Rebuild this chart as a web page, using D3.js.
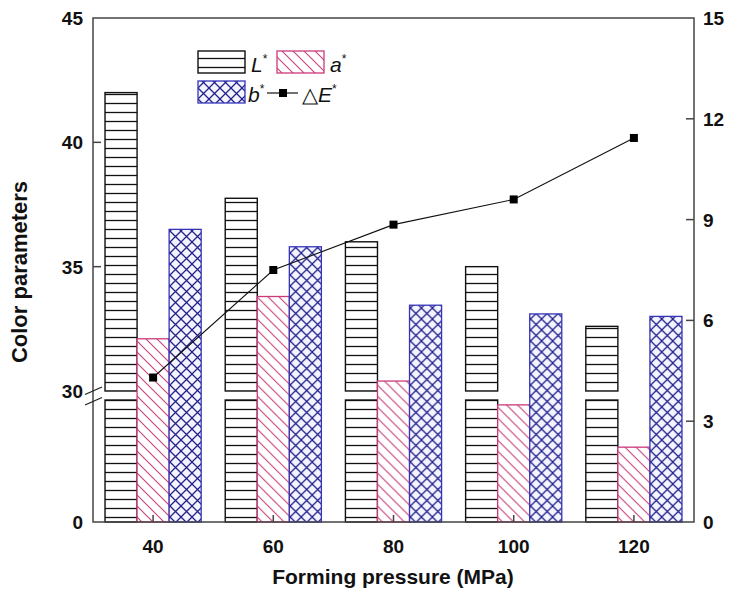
<!DOCTYPE html>
<html>
<head>
<meta charset="utf-8">
<script src="https://cdn.jsdelivr.net/npm/d3@7"></script>
<style>
  html, body { margin: 0; padding: 0; background: #fff; }
  svg { display: block; }
  text { font-family: "Liberation Sans", Arial, sans-serif; }
</style>
</head>
<body>
<svg id="chart" width="730" height="590"></svg>
<script>
// ---------------- data ----------------
const categories = ["40", "60", "80", "100", "120"];
const seriesNames = ["L", "a", "b"];
const Lvalues = [42.0, 37.75, 36.0, 35.0, 32.6];
const aValues = [32.1, 33.8, 30.4, 28.8, 18.4];
const bValues = [36.5, 35.8, 33.45, 33.1, 33.0];
const dEvalues = [4.3, 7.5, 8.85, 9.6, 11.43];
const leftTicksLow = [0];
const leftTicksHigh = [30, 35, 40, 45];
const rightTicks = [0, 3, 6, 9, 12, 15];

// ---------------- layout ----------------
const svg = d3.select("#chart");
const L = 93, R = 694, T = 18, B = 522;
const breakLowTop = 400, breakHighBottom = 391;

const x0 = d3.scaleBand().domain(categories).range([L, R]).padding(0);
const x1 = d3.scaleBand().domain(seriesNames).range([0, x0.bandwidth()])
  .paddingInner(0).paddingOuter(0.375);
const yLow = d3.scaleLinear().domain([0, 30]).range([B, breakLowTop]);
const yHigh = d3.scaleLinear().domain([30, 45]).range([breakHighBottom, T]);
const y = v => (v < 30 ? yLow(v) : yHigh(v));
const yR = d3.scaleLinear().domain([0, 15]).range([B, T]);

// ---------------- patterns ----------------
const defs = svg.append("defs");
const pL = defs.append("pattern").attr("id", "patL").attr("patternUnits", "userSpaceOnUse")
  .attr("width", 10).attr("height", 9);
pL.append("rect").attr("width", 10).attr("height", 9).attr("fill", "#fff");
pL.append("line").attr("x1", 0).attr("x2", 10).attr("y1", 4.5).attr("y2", 4.5)
  .attr("stroke", "#111").attr("stroke-width", 1.3);

const pA = defs.append("pattern").attr("id", "patA").attr("patternUnits", "userSpaceOnUse")
  .attr("width", 11).attr("height", 11);
pA.append("rect").attr("width", 11).attr("height", 11).attr("fill", "#fff");
pA.append("path").attr("d", "M-1,-1 L12,12 M-6.5,4.5 L6.5,17.5 M4.5,-6.5 L17.5,6.5")
  .attr("stroke", "#c8407a").attr("stroke-width", 1.1).attr("fill", "none");

const pB = defs.append("pattern").attr("id", "patB").attr("patternUnits", "userSpaceOnUse")
  .attr("width", 11).attr("height", 11);
pB.append("rect").attr("width", 11).attr("height", 11).attr("fill", "#f4f4ff");
pB.append("path").attr("d", "M0,0 L11,11 M11,0 L0,11")
  .attr("stroke", "#22228c").attr("stroke-width", 1.3).attr("fill", "none");

// ---------------- bars ----------------
const barW = x1.bandwidth();
const groups = svg.append("g").selectAll("g").data(categories).join("g")
  .attr("transform", c => `translate(${x0(c)},0)`);

groups.each(function (c, i) {
  const g = d3.select(this);
  const v = Lvalues[i];
  const xL = x1("L");
  // L* bars (drawn with the break gap)
  g.append("rect").attr("x", xL).attr("width", barW)
    .attr("y", yLow(30)).attr("height", B - yLow(30))
    .attr("fill", "url(#patL)").attr("stroke", "#111").attr("stroke-width", 1.4);
  g.append("rect").attr("x", xL).attr("width", barW)
    .attr("y", yHigh(v)).attr("height", yHigh(30) - yHigh(v))
    .attr("fill", "url(#patL)").attr("stroke", "#111").attr("stroke-width", 1.4);
  g.append("rect").attr("x", x1("a")).attr("width", barW)
    .attr("y", y(aValues[i])).attr("height", B - y(aValues[i]))
    .attr("fill", "url(#patA)").attr("stroke", "#cc3a7a").attr("stroke-width", 1.3);
  g.append("rect").attr("x", x1("b")).attr("width", barW)
    .attr("y", y(bValues[i])).attr("height", B - y(bValues[i]))
    .attr("fill", "url(#patB)").attr("stroke", "#3535b8").attr("stroke-width", 1.3);
});

// ---------------- frame / axes ----------------
const axisColor = "#444";
svg.append("rect").attr("x", L).attr("y", T).attr("width", R - L).attr("height", B - T)
  .attr("fill", "none").attr("stroke", axisColor).attr("stroke-width", 1.5);

// bottom axis (ticks inward)
const xc = c => x0(c) + x0.bandwidth() / 2;
svg.append("g").selectAll("line").data(categories).join("line")
  .attr("x1", xc).attr("x2", xc).attr("y1", B).attr("y2", B - 7)
  .attr("stroke", axisColor).attr("stroke-width", 1.5);
svg.append("g").selectAll("text").data(categories).join("text")
  .attr("x", xc).attr("y", B + 31).attr("text-anchor", "middle")
  .attr("font-size", 19).attr("font-weight", "bold").attr("fill", "#111").text(d => d);

// left axis
const leftTicks = leftTicksLow.map(v => ({ v, yy: yLow(v) }))
  .concat(leftTicksHigh.map(v => ({ v, yy: yHigh(v) })));
svg.append("g").selectAll("line").data(leftTicks.filter(d => d.v !== 0 && d.v !== 45 && d.v !== 30)).join("line")
  .attr("x1", L).attr("x2", L + 8).attr("y1", d => d.yy).attr("y2", d => d.yy)
  .attr("stroke", axisColor).attr("stroke-width", 1.5);
svg.append("g").selectAll("text").data(leftTicks).join("text")
  .attr("x", L - 10).attr("y", d => d.yy + 7).attr("text-anchor", "end")
  .attr("font-size", 19).attr("font-weight", "bold").attr("fill", "#111").text(d => d.v);

// break marks
[0, 10.5].forEach(dy => {
  svg.append("line")
    .attr("x1", L - 8).attr("y1", breakHighBottom + 3.5 + dy)
    .attr("x2", L + 9).attr("y2", breakHighBottom - 4 + dy)
    .attr("stroke", "#222").attr("stroke-width", 1.3);
});

// right axis
svg.append("g").selectAll("line").data(rightTicks.filter(v => v !== 0 && v !== 15)).join("line")
  .attr("x1", R).attr("x2", R - 8).attr("y1", d => yR(d)).attr("y2", d => yR(d))
  .attr("stroke", axisColor).attr("stroke-width", 1.5);
svg.append("g").selectAll("text").data(rightTicks).join("text")
  .attr("x", R + 9).attr("y", d => yR(d) + 7).attr("text-anchor", "start")
  .attr("font-size", 19).attr("font-weight", "bold").attr("fill", "#111").text(d => d);

// ---------------- ΔE line ----------------
const line = d3.line().x((d, i) => xc(categories[i])).y(d => yR(d));
svg.append("path").datum(dEvalues).attr("d", line)
  .attr("fill", "none").attr("stroke", "#111").attr("stroke-width", 1.1);
svg.append("g").selectAll("rect").data(dEvalues).join("rect")
  .attr("x", (d, i) => xc(categories[i]) - 4).attr("y", d => yR(d) - 4)
  .attr("width", 8).attr("height", 8).attr("fill", "#000");

// ---------------- axis titles ----------------
svg.append("text").attr("x", 393).attr("y", 584).attr("text-anchor", "middle")
  .attr("font-size", 21).attr("font-weight", "bold").attr("fill", "#111")
  .text("Forming pressure (MPa)");
svg.append("text").attr("transform", "translate(27,272) rotate(-90)")
  .attr("text-anchor", "middle").attr("font-size", 22).attr("font-weight", "bold")
  .attr("fill", "#111").text("Color parameters");

// ---------------- legend ----------------
const lg = svg.append("g");
function legendText(x, yy, base) {
  const t = lg.append("text").attr("x", x).attr("y", yy).attr("font-size", 21)
    .attr("fill", "#111");
  base.forEach(([s, italic, sup]) => {
    const ts = t.append("tspan").text(s);
    if (italic) ts.attr("font-style", "italic");
    if (sup) ts.attr("font-size", 12).attr("dy", -9);
  });
}
lg.append("rect").attr("x", 198).attr("y", 51).attr("width", 47).attr("height", 22)
  .attr("fill", "url(#patL)").attr("stroke", "#111").attr("stroke-width", 1.4);
legendText(251, 72, [["L", true], ["*", false, true]]);
lg.append("rect").attr("x", 277).attr("y", 51).attr("width", 47).attr("height", 22)
  .attr("fill", "url(#patA)").attr("stroke", "#cc3a7a").attr("stroke-width", 1.3);
legendText(330, 72, [["a", true], ["*", false, true]]);
lg.append("rect").attr("x", 198).attr("y", 81).attr("width", 47).attr("height", 22)
  .attr("fill", "url(#patB)").attr("stroke", "#3535b8").attr("stroke-width", 1.3);
legendText(248, 102, [["b", true], ["*", false, true]]);
lg.append("line").attr("x1", 267).attr("x2", 298).attr("y1", 93).attr("y2", 93)
  .attr("stroke", "#111").attr("stroke-width", 1.2);
lg.append("rect").attr("x", 279).attr("y", 89).attr("width", 8).attr("height", 8).attr("fill", "#000");
legendText(302, 102, [["△", false], ["E", true], ["*", false, true]]);
</script>
</body>
</html>
